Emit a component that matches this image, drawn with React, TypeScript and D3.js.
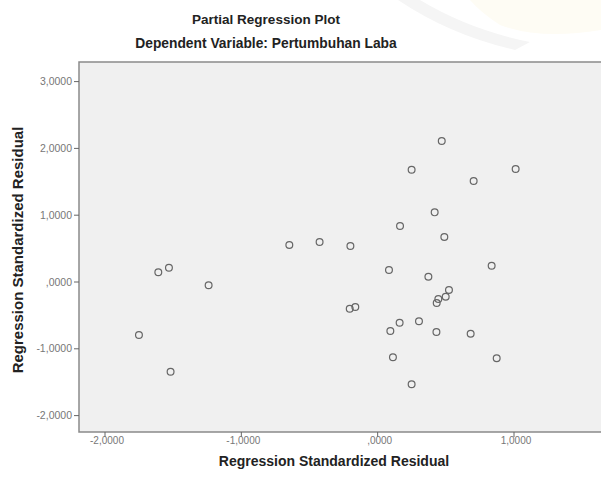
import * as d3 from 'd3'

// regression standardized residuals (x) vs (y)
const xVals = [
  -1.609, -1.531, -1.24, -1.751, -1.519, -0.648, -0.426, -0.2, -0.205, -0.164,
  0.47, 0.249, 1.012, 0.704, 0.418, 0.164, 0.489, 0.083, 0.836, 0.372,
  0.523, 0.499, 0.445, 0.433, 0.161, 0.303, 0.093, 0.431, 0.682, 0.112,
  0.873, 0.249,
]
const yVals = [
  0.145, 0.214, -0.049, -0.793, -1.343, 0.554, 0.599, 0.539, -0.4, -0.374,
  2.111, 1.681, 1.692, 1.512, 1.043, 0.838, 0.674, 0.18, 0.244, 0.079,
  -0.12, -0.22, -0.254, -0.314, -0.609, -0.588, -0.734, -0.749, -0.774, -1.127,
  -1.142, -1.531,
]
const xTicks = [-2, -1, 0, 1]
const yTicks = [-2, -1, 0, 1, 2, 3]

const title = 'Partial Regression Plot'
const subtitle = 'Dependent Variable: Pertumbuhan Laba'
const xLabel = 'Regression Standardized Residual'
const yLabel = 'Regression Standardized Residual'

const W = 601
const H = 477
const plot = { left: 79, right: 604, top: 62, bottom: 432 }

// SPSS style: comma decimal, no leading zero
const fmt = (v: number) => {
  const s = d3.format('.4f')(v).replace('.', ',').replace('−', '-')
  return s.replace(/^(-?)0,/, '$1,')
}

const font = '"Liberation Sans", Arial, sans-serif'

export default function App() {
  const x = d3.scaleLinear().domain([-2, 1]).range([105, 514])
  const y = d3.scaleLinear().domain([-2, 3]).range([415.6, 81.6])

  const points = xVals.map((v, i) => ({ x: v, y: yVals[i] }))

  return (
    <svg
      width={W}
      height={H}
      style={{ position: 'absolute', left: 0, top: 0, background: '#fff' }}
      fontFamily={font}
    >
      {/* faint watermark in the top right corner */}
      <path d="M470,0 L601,0 L601,30 Q540,40 500,25 Q480,12 470,0 Z" fill="#fefcf4" />
      <path d="M398,0 L420,0 Q470,30 530,42 L515,50 Q450,35 398,0 Z" fill="#f5f5f5" />

      <text x={266} y={24} textAnchor="middle" fontSize={13.5} fontWeight="bold" fill="#222">
        {title}
      </text>
      <text x={266} y={48} textAnchor="middle" fontSize={13.8} fontWeight="bold" fill="#222">
        {subtitle}
      </text>

      <rect
        x={plot.left}
        y={plot.top}
        width={plot.right - plot.left}
        height={plot.bottom - plot.top}
        fill="#f0f0f0"
        stroke="#8a8a8a"
        strokeWidth={1.5}
      />

      {yTicks.map(t => (
        <g key={'y' + t}>
          <line x1={plot.left - 5} x2={plot.left} y1={y(t)} y2={y(t)} stroke="#666" />
          <text x={plot.left - 7} y={y(t)} dy="0.35em" textAnchor="end" fontSize={10.5} fill="#777">
            {fmt(t)}
          </text>
        </g>
      ))}

      {xTicks.map(t => (
        <g key={'x' + t}>
          <line x1={x(t)} x2={x(t)} y1={plot.bottom} y2={plot.bottom + 5} stroke="#666" />
          <text x={x(t) + 2} y={444} textAnchor="middle" fontSize={10} fill="#777">
            {fmt(t)}
          </text>
        </g>
      ))}

      {points.map((p, i) => (
        <circle
          key={i}
          cx={x(p.x)}
          cy={y(p.y)}
          r={3.4}
          fill="none"
          stroke="#666"
          strokeWidth={1.2}
        />
      ))}

      <text x={334} y={466} textAnchor="middle" fontSize={14} fontWeight="bold" fill="#222">
        {xLabel}
      </text>
      <text
        transform="translate(23,250) rotate(-90)"
        textAnchor="middle"
        fontSize={15}
        fontWeight="bold"
        fill="#222"
      >
        {yLabel}
      </text>
    </svg>
  )
}
